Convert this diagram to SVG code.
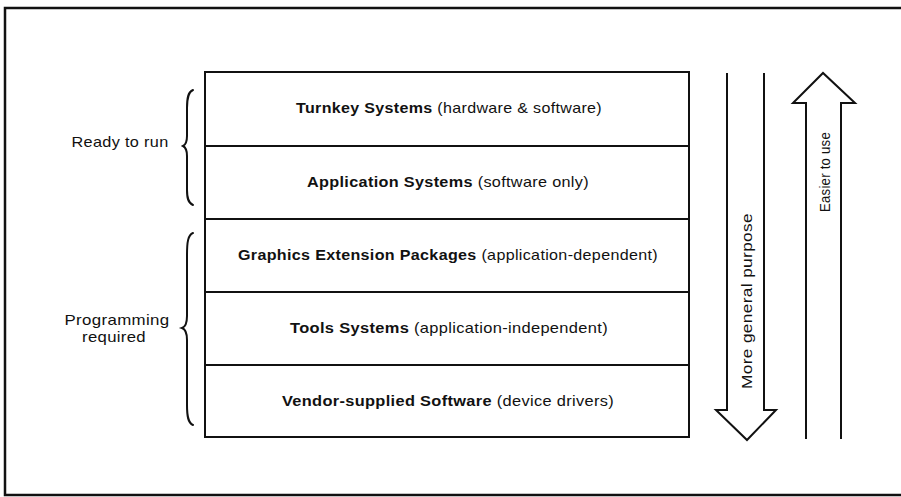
<svg xmlns="http://www.w3.org/2000/svg" width="901" height="497" viewBox="0 0 901 497">
<style>
.frame{fill:none;stroke:#111;stroke-width:2.5}
.box{fill:#fff;stroke:#111;stroke-width:2}
.t{font-family:"Liberation Sans",Arial,sans-serif;font-size:14.5px;fill:#111;text-anchor:middle;letter-spacing:0.3px}
.b{font-weight:bold}
.lbl{font-family:"Liberation Sans",Arial,sans-serif;font-size:14.5px;fill:#111;text-anchor:middle;letter-spacing:0.3px}
.arrow{fill:#fff;stroke:#111;stroke-width:2;stroke-linejoin:miter}
.brace{fill:none;stroke:#111;stroke-width:2;stroke-linecap:round}
</style>
<rect x="0" y="0" width="901" height="497" fill="#fff"/>
<path class="frame" d="M901,8 L5,8 L5,495 L901,495"/>
<g id="turnkey">
<rect class="box" x="205" y="72" width="484" height="74"/>
<text class="t" x="449" y="113" textLength="306" lengthAdjust="spacingAndGlyphs"><tspan class="b">Turnkey Systems</tspan> (hardware &amp; software)</text>
</g>
<g id="application">
<rect class="box" x="205" y="146" width="484" height="73"/>
<text class="t" x="448" y="187" textLength="282" lengthAdjust="spacingAndGlyphs"><tspan class="b">Application Systems</tspan> (software only)</text>
</g>
<g id="graphics">
<rect class="box" x="205" y="219" width="484" height="73"/>
<text class="t" x="448" y="260" textLength="420" lengthAdjust="spacingAndGlyphs"><tspan class="b">Graphics Extension Packages</tspan> (application-dependent)</text>
</g>
<g id="tools">
<rect class="box" x="205" y="292" width="484" height="73"/>
<text class="t" x="449" y="333" textLength="318" lengthAdjust="spacingAndGlyphs"><tspan class="b">Tools Systems</tspan> (application-independent)</text>
</g>
<g id="vendor">
<rect class="box" x="205" y="365" width="484" height="72"/>
<text class="t" x="448" y="406" textLength="332" lengthAdjust="spacingAndGlyphs"><tspan class="b">Vendor-supplied Software</tspan> (device drivers)</text>
</g>
<g id="ready">
<path class="brace" d="M193,90 C188,92 187,98 187,108 L187,136 C187,142 185,145 183,146 C185,147 187,150 187,156 L187,190 C187,198 188,203 193,205"/>
<text class="lbl" x="120" y="147" textLength="97" lengthAdjust="spacingAndGlyphs">Ready to run</text>
</g>
<g id="programming">
<path class="brace" d="M193,233 C188,235 187,242 187,255 L187,316 C187,323 185,327 182,328 C185,329 187,333 187,340 L187,405 C187,416 188,423 193,425"/>
<text class="lbl" x="117" y="325" textLength="105" lengthAdjust="spacingAndGlyphs">Programming</text>
<text class="lbl" x="114" y="342" textLength="64" lengthAdjust="spacingAndGlyphs">required</text>
</g>
<g id="connectors">
<g id="general">
<path class="arrow" d="M727,73 L727,410 L716,410 L747,440 L776,410 L764,410 L764,73"/>
<text class="lbl" transform="translate(752,301) rotate(-90)" textLength="176" lengthAdjust="spacingAndGlyphs">More general purpose</text>
</g>
<g id="easier">
<path class="arrow" d="M806,439 L806,103 L793,103 L823,73 L855,103 L841,103 L841,439"/>
<text class="lbl" transform="translate(830,172) rotate(-90)" textLength="80" lengthAdjust="spacingAndGlyphs">Easier to use</text>
</g>
</g>
</svg>
